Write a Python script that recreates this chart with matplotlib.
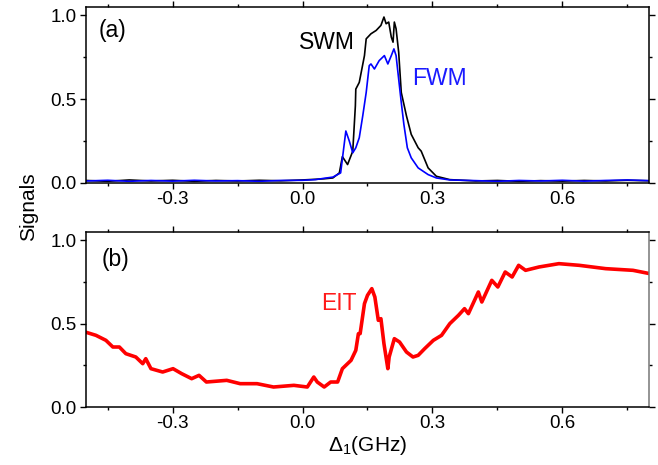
import matplotlib
matplotlib.use('Agg')
import matplotlib.pyplot as plt
from matplotlib.ticker import MultipleLocator

plt.rcParams['font.family'] = ['Liberation Sans', 'DejaVu Sans']
plt.rcParams['mathtext.fontset'] = 'custom'
plt.rcParams['mathtext.rm'] = 'Liberation Sans'
plt.rcParams['mathtext.it'] = 'Liberation Sans:italic'

# panel (a): SWM (black) and FWM (blue)
swm_x = [-0.50, -0.45, -0.40, -0.35, -0.30, -0.25, -0.20, -0.15, -0.10, -0.05,
         0.00, 0.03, 0.05, 0.07, 0.085, 0.092, 0.104, 0.116, 0.122, 0.123,
         0.131, 0.143, 0.147, 0.158, 0.170, 0.181, 0.188, 0.193, 0.199, 0.205,
         0.209, 0.212, 0.216, 0.222, 0.228, 0.240, 0.251, 0.267, 0.274, 0.290,
         0.309, 0.340, 0.40, 0.45, 0.50, 0.55, 0.60, 0.65, 0.70, 0.75, 0.80]
swm_y = [0.015, 0.010, 0.018, 0.012, 0.016, 0.010, 0.015, 0.012, 0.016, 0.013,
         0.018, 0.022, 0.025, 0.030, 0.060, 0.157, 0.110, 0.190, 0.460, 0.560,
         0.600, 0.760, 0.860, 0.890, 0.910, 0.940, 0.990, 0.950, 0.960, 0.870,
         0.840, 0.960, 0.920, 0.780, 0.540, 0.400, 0.290, 0.210, 0.190, 0.090,
         0.040, 0.020, 0.012, 0.015, 0.010, 0.014, 0.011, 0.015, 0.012, 0.016, 0.013]

fwm_x = [-0.50, -0.45, -0.40, -0.35, -0.30, -0.25, -0.20, -0.15, -0.10, -0.05,
         0.00, 0.03, 0.05, 0.07, 0.088, 0.100, 0.108, 0.116, 0.123, 0.131,
         0.139, 0.147, 0.154, 0.158, 0.166, 0.177, 0.189, 0.197, 0.205, 0.211,
         0.216, 0.222, 0.228, 0.234, 0.242, 0.251, 0.267, 0.290, 0.309, 0.340,
         0.40, 0.45, 0.50, 0.55, 0.60, 0.65, 0.70, 0.75, 0.80]
fwm_y = [0.012, 0.016, 0.010, 0.015, 0.011, 0.016, 0.012, 0.014, 0.010, 0.015,
         0.016, 0.020, 0.028, 0.035, 0.060, 0.310, 0.250, 0.180, 0.210, 0.270,
         0.400, 0.540, 0.700, 0.710, 0.680, 0.730, 0.760, 0.710, 0.760, 0.800,
         0.760, 0.620, 0.480, 0.350, 0.210, 0.150, 0.090, 0.050, 0.030, 0.018,
         0.014, 0.010, 0.015, 0.012, 0.016, 0.011, 0.015, 0.018, 0.014]

# panel (b): EIT (red)
eit_x = [-0.502, -0.477, -0.454, -0.438, -0.423, -0.408, -0.385, -0.369, -0.362, -0.350,
         -0.323, -0.299, -0.279, -0.256, -0.239, -0.222, -0.175, -0.144, -0.105, -0.067,
         -0.020, 0.011, 0.026, 0.034, 0.050, 0.065, 0.081, 0.092, 0.112, 0.123,
         0.129, 0.133, 0.143, 0.150, 0.160, 0.167, 0.175, 0.181, 0.188, 0.197,
         0.200, 0.212, 0.224, 0.240, 0.255, 0.267, 0.282, 0.302, 0.321, 0.340,
         0.360, 0.374, 0.383, 0.406, 0.414, 0.437, 0.451, 0.468, 0.484, 0.499,
         0.515, 0.546, 0.592, 0.639, 0.700, 0.763, 0.802]
eit_y = [0.45, 0.43, 0.40, 0.36, 0.36, 0.32, 0.30, 0.26, 0.29, 0.23,
         0.21, 0.23, 0.20, 0.17, 0.19, 0.15, 0.16, 0.14, 0.14, 0.12,
         0.13, 0.12, 0.18, 0.15, 0.12, 0.15, 0.15, 0.23, 0.28, 0.34,
         0.44, 0.44, 0.62, 0.67, 0.71, 0.66, 0.52, 0.53, 0.38, 0.23,
         0.30, 0.41, 0.39, 0.33, 0.30, 0.31, 0.35, 0.40, 0.43, 0.50,
         0.55, 0.59, 0.56, 0.69, 0.63, 0.76, 0.72, 0.81, 0.78, 0.85,
         0.82, 0.84, 0.86, 0.85, 0.83, 0.82, 0.80]

xticks = [-0.3, 0.0, 0.3, 0.6]
yticks = [0.0, 0.5, 1.0]

fig = plt.figure(figsize=(6.58, 4.65), dpi=100)
ax1 = fig.add_axes([0.1307, 0.6065, 0.8556, 0.3785])
ax2 = fig.add_axes([0.1307, 0.1247, 0.8556, 0.3764])

ax1.plot(swm_x, swm_y, color='black', lw=1.2)
ax1.plot(fwm_x, fwm_y, color='#0000ff', lw=1.2)
ax2.plot(eit_x, eit_y, color='#ff0000', lw=2.6)

for ax in (ax1, ax2):
    ax.set_xlim(-0.5, 0.8)
    ax.set_ylim(0, 1.05)
    ax.set_xticks(xticks)
    ax.set_yticks(yticks)
    ax.set_xticklabels(['%.1f' % v for v in xticks])
    ax.set_yticklabels(['%.1f' % v for v in yticks])
    ax.xaxis.set_minor_locator(MultipleLocator(0.15))
    ax.yaxis.set_minor_locator(MultipleLocator(0.25))
    ax.tick_params(which='both', direction='out', top=True, right=True,
                   labelsize=13.5, width=1.0)
    ax.tick_params(which='major', length=4)
    ax.tick_params(which='minor', length=2)
    ax.tick_params(axis='x', pad=1.5)
    ax.tick_params(axis='y', pad=3)
    for s in ax.spines.values():
        s.set_linewidth(1.1)

ax2.spines['right'].set_color('#777777')

ax1.text(-0.47, 0.91, '(a)', fontsize=16.5, ha='left', va='center')
ax1.text(-0.009, 0.84, 'SWM', fontsize=16.5, ha='left', va='center')
ax1.text(0.253, 0.625, 'FWM', fontsize=16.5, ha='left', va='center', color='#1a1aff')
ax2.text(-0.463, 0.886, '(b)', fontsize=16.5, ha='left', va='center')
ax2.text(0.044, 0.62, 'EIT', fontsize=16.5, ha='left', va='center', color='#ff1a1a')

fig.text(0.043, 0.555, 'Signals', rotation=90, fontsize=15, ha='center', va='center')
ax2.set_xlabel(r'$\Delta_1$(GHz)', fontsize=15, labelpad=2)

fig.savefig('out.png', dpi=100)
